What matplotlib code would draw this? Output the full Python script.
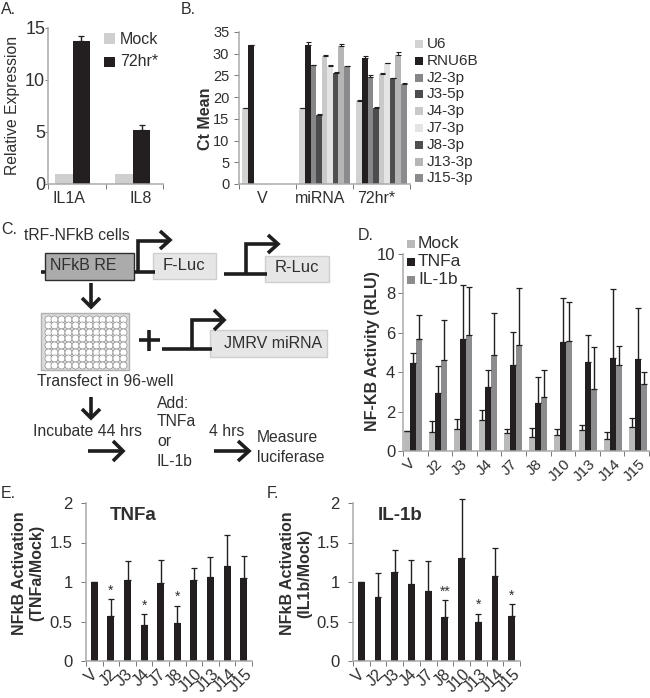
import numpy as np
import matplotlib
matplotlib.use("Agg")
import matplotlib.pyplot as plt
from matplotlib.patches import Rectangle
from matplotlib.transforms import ScaledTranslation

plt.rcParams['font.family'] = ['Liberation Sans', 'DejaVu Sans']

W, H = 650, 698
DARK = '#231f20'
TXT = '#2f2f2f'
AXC = '#a9a9a9'

# panel A
a_groups = ['IL1A', 'IL8']
a_mock = [1, 1]
a_72hr = [13.75, 5.2]
a_72hr_top = [14.2, 5.65]

# panel B
b_groups = ['V', 'miRNA', '72hr*']
b_series = ['U6', 'RNU6B', 'J2-3p', 'J3-5p', 'J4-3p', 'J7-3p', 'J8-3p', 'J13-3p', 'J15-3p']
b_colors = ['#d2d2d2', DARK, '#87878a', '#4c4c4e', '#c9c9c9', '#e4e4e4', '#4f4f51', '#b6b6b6', '#8b8b8d']
b_v = [17.5, 32, 0, 0, 0, 0, 0, 0, 0]
b_mirna = [17.5, 31.9, 27.3, 16, 29.5, 27.1, 25.5, 31.8, 27.1]
b_72hr = [19.2, 29, 24.6, 17.6, 25.4, 27.8, 24.4, 29.8, 23.1]
b_v_err = [0.1, 0.1, 0, 0, 0, 0, 0, 0, 0]
b_mirna_err = [0.1, 0.7, 0.2, 0.1, 0.2, 0.2, 0.4, 0.5, 0.1]
b_72hr_err = [0.1, 0.5, 0.6, 0.1, 0.2, 0.1, 0.1, 0.7, 0.2]

# panel D
d_groups = ['V', 'J2', 'J3', 'J4', 'J7', 'J8', 'J10', 'J13', 'J14', 'J15']
d_series = ['Mock', 'TNFa', 'IL-1b']
d_colors = ['#b9b9b9', DARK, '#8c8c8e']
d_mock = [1.0, 0.95, 1.12, 1.57, 0.92, 0.72, 0.8, 1.08, 0.63, 1.22]
d_mock_top = [1.0, 1.5, 1.62, 2.08, 1.13, 1.15, 1.12, 1.3, 0.98, 1.7]
d_tnfa = [4.48, 2.95, 5.7, 3.25, 4.37, 2.43, 5.52, 4.52, 4.72, 4.67]
d_tnfa_top = [5.0, 4.32, 8.45, 4.1, 6.02, 3.75, 7.78, 5.9, 8.2, 7.28]
d_il1b = [5.7, 4.62, 5.9, 4.85, 5.37, 2.72, 5.6, 3.15, 4.38, 3.4]
d_il1b_top = [6.88, 6.65, 8.32, 7.0, 8.25, 4.1, 7.58, 5.28, 5.35, 4.03]

# panels E and F
e_vals = [1, 0.57, 1.03, 0.46, 0.99, 0.48, 1.03, 1.06, 1.2, 1.05]
e_top = [1, 0.78, 1.27, 0.59, 1.28, 0.7, 1.18, 1.32, 1.6, 1.33]
e_stars = ['', '*', '', '*', '', '*', '', '', '', '']
f_vals = [1, 0.81, 1.13, 0.97, 0.89, 0.56, 1.3, 0.5, 1.07, 0.57]
f_top = [1, 1.12, 1.4, 1.28, 1.27, 0.77, 2.05, 0.6, 1.43, 0.72]
f_stars = ['', '', '', '', '', '**', '', '*', '', '*']

fig = plt.figure(figsize=(W / 100, H / 100), dpi=100)


def px_axes(x0, x1, ytop, ybot):
    ax = fig.add_axes([x0 / W, 1 - ybot / H, (x1 - x0) / W, (ybot - ytop) / H])
    ax.patch.set_alpha(0)
    ax.spines[['top', 'right']].set_visible(False)
    ax.spines[['left', 'bottom']].set_color(AXC)
    ax.spines[['left', 'bottom']].set_linewidth(1.1)
    ax.tick_params(axis='both', which='major', color='#777777', length=3.5, width=0.7, labelcolor=TXT)
    ax.box = (x0, x1, ytop, ybot)
    return ax


def group_ticks(ax, lo, hi, n, labels, size, rot=0, pad=3, dx=0, pos=None):
    ax.set_xlim(lo, hi)
    ax.set_xticks(np.linspace(lo, hi, n + 1))
    ax.set_xticklabels([])
    ax.set_xticks(np.arange(n) if pos is None else pos, labels=labels, minor=True)
    ax.tick_params(axis='x', which='minor', length=0, pad=pad, labelsize=size, labelcolor=TXT)
    for lab in ax.get_xticklabels(minor=True):
        lab.set_rotation(rot)
        lab.set_transform(lab.get_transform() + ScaledTranslation(dx / 72, 0, fig.dpi_scale_trans))


def up_err(ax, x, vals, tops, color=DARK, cap=2.0):
    vals = np.array(vals, float)
    tops = np.array(tops, float)
    eb = ax.errorbar(x, vals, yerr=[np.zeros_like(vals), tops - vals], fmt='none',
                     ecolor=color, elinewidth=1.0, capsize=cap, capthick=0.9)
    for art in eb.get_children():
        art.set_clip_on(False)


def ylab_at(ax, s, xpx, ypx, **kw):
    x0, x1, ytop, ybot = ax.box
    ax.set_ylabel(s, color=TXT, va='center', **kw)
    ax.yaxis.set_label_coords((xpx - x0) / (x1 - x0), (ybot - ypx) / (ybot - ytop))


# A
ax = px_axes(48, 163, 28, 184)
x = np.arange(len(a_groups))
ax.bar(x - 0.145, a_mock, 0.29, color='#cfcfcf')
ax.bar(x + 0.145, a_72hr, 0.29, color=DARK)
up_err(ax, x + 0.145, a_72hr, a_72hr_top)
group_ticks(ax, -0.41, 1.5, 2, a_groups, 11.5, pad=5, pos=[-0.07, 1.13])
ax.set_ylim(0, 15)
ax.set_yticks([0, 5, 10, 15])
ax.tick_params(axis='y', labelsize=13, length=2, pad=0)
ylab_at(ax, 'Relative Expression', 13, 105, fontsize=11.3)

# B
ax = px_axes(239, 410, 32, 184)
bw = 0.098
for g, (vals, errs) in enumerate([(b_v, b_v_err), (b_mirna, b_mirna_err), (b_72hr, b_72hr_err)]):
    for i, (v, e) in enumerate(zip(vals, errs)):
        if v == 0:
            continue
        xp = g + (i - 4) * bw
        ax.bar(xp, v, bw, color=b_colors[i])
        ax.errorbar(xp, v, yerr=[[0], [e]], fmt='none', ecolor=DARK, elinewidth=0.8, capsize=1.8, capthick=0.8)
group_ticks(ax, -0.5, 2.5, 3, b_groups, 11.5, pad=5, dx=-3.5)
ax.set_ylim(0, 35)
ax.set_yticks(np.arange(0, 36, 5))
ax.tick_params(axis='y', labelsize=10.5, pad=3.5)
ylab_at(ax, 'Ct Mean', 205, 119, fontsize=11.5, fontweight='bold')

# D
ax = px_axes(403, 649, 254, 451)
x = np.arange(len(d_groups))
bw = 0.24
for off, vals, tops, col in [(-bw, d_mock, d_mock_top, d_colors[0]), (0, d_tnfa, d_tnfa_top, d_colors[1]),
                             (bw, d_il1b, d_il1b_top, d_colors[2])]:
    ax.bar(x + off, vals, bw, color=col)
    up_err(ax, x + off, vals, tops)
group_ticks(ax, -0.4, 9.42, 10, d_groups, 11, rot=45, pad=4, dx=-2.5)
ax.set_ylim(0, 10)
ax.set_yticks(np.arange(0, 11, 2))
ax.tick_params(axis='y', labelsize=12, pad=2)
ylab_at(ax, 'NF-KB Activity (RLU)', 372, 351, fontsize=11.5, fontweight='bold')

# E, F
for box, vals, tops, stars, title, ylab, tx, lx in [
        ((86, 252), e_vals, e_top, e_stars, 'TNFa', 'NFkB Activation\n(TNFa/Mock)', 0.145, 28),
        ((353, 520), f_vals, f_top, f_stars, 'IL-1b', 'NFkB Activation\n(IL1b/Mock)', 0.15, 296)]:
    ax = px_axes(box[0], box[1], 503, 661)
    x = np.arange(len(vals))
    ax.bar(x, vals, 0.41, color=DARK)
    up_err(ax, x, vals, tops, cap=2.3)
    for xi, t, s in zip(x, tops, stars):
        if s:
            ax.text(xi, t + 0.02, s, ha='center', va='bottom', fontsize=10, color=TXT)
    group_ticks(ax, -0.5, 9.5, 10, d_groups, 11.5, rot=45, pad=4, dx=-2)
    ax.set_ylim(0, 2)
    ax.set_yticks([0, 0.5, 1, 1.5, 2], labels=['0', '0.5', '1', '1.5', '2'])
    ax.tick_params(axis='y', labelsize=12, pad=6)
    ylab_at(ax, ylab, lx, 573, fontsize=11.5, fontweight='bold', linespacing=1.15)
    ax.text(tx, 0.918, title, transform=ax.transAxes, ha='left', va='center', fontsize=13.5,
            fontweight='bold', color=TXT)

# overlay in pixel coordinates: panel letters, legends, schematic of panel C
ov = fig.add_axes([0, 0, 1, 1])
ov.set_xlim(0, W)
ov.set_ylim(H, 0)
ov.axis('off')
ov.patch.set_alpha(0)


def txt(x, y, s, size=11.3, **kw):
    ov.text(x, y, s, fontsize=size, color=TXT, va='center', ha=kw.pop('ha', 'left'), **kw)


for x0, y0, s in [(1, 9, 'A.'), (181, 9, 'B.'), (1, 229, 'C.'), (358, 235, 'D.'), (1, 494, 'E.'), (267, 494, 'F.')]:
    txt(x0, y0, s, 11.5)

# legends
for i, (s, c) in enumerate(zip(['Mock', '72hr*'], ['#cfcfcf', DARK])):
    ov.add_patch(Rectangle((104, 33 + 23.5 * i), 10.5, 10.5, fc=c, ec='none'))
    txt(120, 39 + 23 * i, s, 11.5)
for i, (s, c) in enumerate(zip(b_series, b_colors)):
    y = 44 + 16.8 * i
    ov.add_patch(Rectangle((415, y - 4), 7.5, 8, fc=c, ec='none'))
    txt(427, y, s, 11)
for i, (s, c) in enumerate(zip(d_series, d_colors)):
    y = 244 + 18 * i
    ov.add_patch(Rectangle((407, y - 4), 7.5, 8, fc=c, ec='none'))
    txt(418, y, s, 12.5)


def pline(xs, ys, lw=2.6):
    ov.plot(xs, ys, color='#1e1e1e', lw=lw, solid_capstyle='butt', solid_joinstyle='miter')


def chev(x, y, dx, dy, down=False):
    if down:
        pline([x - dx, x, x + dx], [y - dy, y, y - dy])
    else:
        pline([x - dx, x, x - dx], [y - dy, y, y + dy])


ov.add_patch(Rectangle((45, 253), 89, 27, fc='#ababab', ec='#2e2e2e', lw=1.0))
pline([41, 45], [272, 272])
pline([134, 155], [272, 272])
pline([138, 138, 169], [272, 241, 241])
chev(170, 240, 10, 9)
ov.add_patch(Rectangle((153, 253), 63, 26, fc='#e6e6e6', ec='#cfcfcf', lw=1.0))
txt(50, 265, 'NFkB RE', 11.5)
txt(184, 265, 'F-Luc', 12, ha='center')
txt(24, 236, 'tRF-NFkB cells')

pline([224, 267], [274, 274])
pline([246, 246, 277], [274, 244, 244])
chev(278, 244, 10, 9)
ov.add_patch(Rectangle((265, 256), 64, 26, fc='#e6e6e6', ec='#cfcfcf', lw=1.0))
txt(297, 268, 'R-Luc', 12, ha='center')

pline([91, 91], [283, 306])
chev(91, 307, 9, 9, down=True)

ov.add_patch(Rectangle((41, 313), 88, 57, fc='#dcdcdc', ec='#b0b0b0', lw=1.0))
wx, wy = np.meshgrid(np.linspace(47.5, 123, 12), np.linspace(318.5, 365, 8))
ov.scatter(wx.ravel(), wy.ravel(), s=26, facecolor='white', edgecolor='#8c8c8c', linewidth=0.5)

pline([138.5, 160], [340, 340])
pline([149, 149], [330, 351])

pline([162, 212], [349, 349])
pline([192, 192, 223], [349, 320, 320])
chev(224, 320, 10, 10)
ov.add_patch(Rectangle((210, 330), 117, 27, fc='#e6e6e6', ec='#cfcfcf', lw=1.0))
txt(273, 343, 'JMRV miRNA', 11.5, ha='center')

txt(37, 381, 'Transfect in 96-well')
pline([91, 91], [397, 417])
chev(91, 418, 9, 9, down=True)
txt(33, 431, 'Incubate 44 hrs')
pline([88, 122], [451, 451])
chev(123, 451, 10, 10)
for yy, s in zip([403, 422, 442, 461], ['Add:', 'TNFa', 'or', 'IL-1b']):
    txt(157, yy, s)
txt(209, 432, '4 hrs')
pline([214, 248], [451, 451])
chev(249, 451, 11, 10)
txt(257, 438, 'Measure')
txt(257, 458, 'luciferase')

fig.savefig('out.png', dpi=100)
